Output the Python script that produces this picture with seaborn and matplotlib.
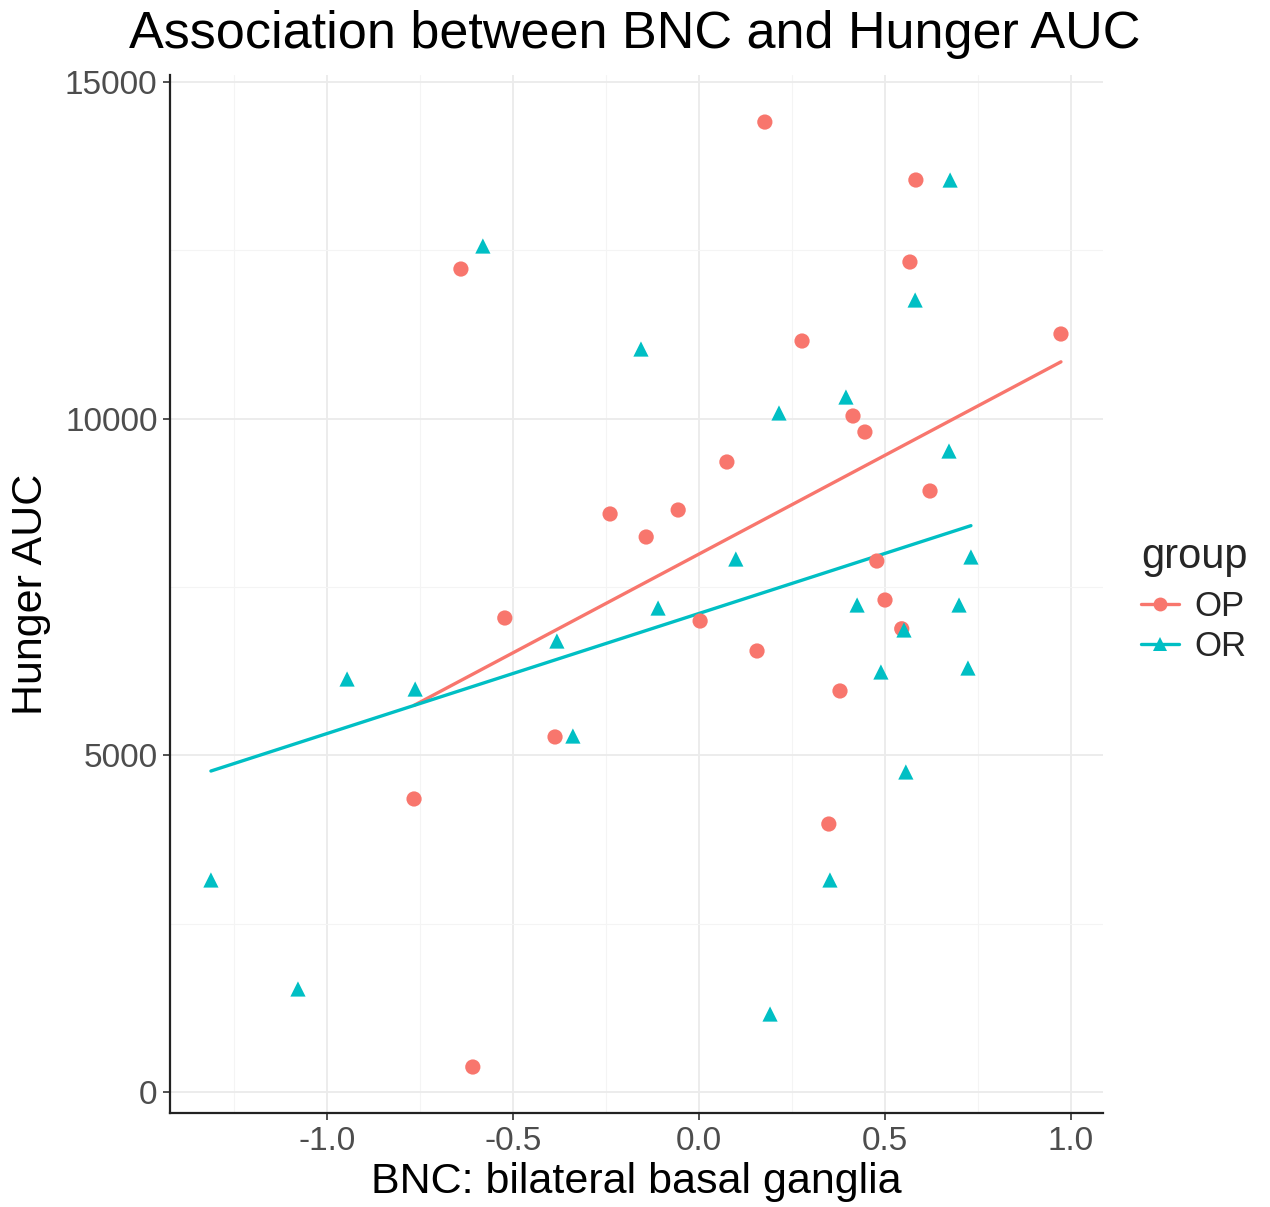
import numpy as np
import pandas as pd
import seaborn as sns
import matplotlib.pyplot as plt
from matplotlib.lines import Line2D
from matplotlib.ticker import MultipleLocator

sns.set_theme(style="white")
plt.rcParams["font.family"] = ["Liberation Sans", "DejaVu Sans"]

# OP group (red circles)
op_x = [0.177, 0.583, 0.567, -0.640, 0.973, 0.277, 0.414, 0.446, 0.075, 0.621,
        -0.239, -0.056, -0.142, 0.478, 0.500, -0.522, 0.003, 0.156, 0.379, -0.387,
        -0.766, 0.349, -0.608, 0.545]
op_y = [14406, 13545, 12327, 12223, 11258, 11154, 10040, 9802, 9357, 8926,
        8585, 8644, 8243, 7886, 7307, 7040, 6995, 6550, 5956, 5273,
        4352, 3980, 371, 6880]

# OR group (teal triangles)
or_x = [-0.581, 0.675, 0.581, -0.156, 0.395, 0.215, 0.672, 0.099, 0.731, -0.110,
        0.425, 0.699, 0.551, -0.382, -0.946, -0.763, 0.489, 0.723, -0.339, 0.556,
        -1.312, 0.352, -1.078, 0.191]
or_y = [12565, 13545, 11763, 11035, 10322, 10085, 9520, 7916, 7946, 7188,
        7233, 7233, 6862, 6698, 6134, 5985, 6238, 6297, 5287, 4753,
        3149, 3149, 1530, 1158]

groups = ["OP", "OR"]
palette = {"OP": "#F8766D", "OR": "#00BFC4"}
markers = {"OP": "o", "OR": "^"}

df = pd.DataFrame({
    "bnc": op_x + or_x,
    "auc": op_y + or_y,
    "group": ["OP"] * len(op_x) + ["OR"] * len(or_x),
})

fig = plt.figure(figsize=(12.7, 12.07), dpi=100)
ax = fig.add_axes([170 / 1270, 1 - 1113 / 1207, (1103 - 170) / 1270, (1113 - 75) / 1207])

for g in groups:
    sub = df[df["group"] == g]
    sns.regplot(data=sub, x="bnc", y="auc", scatter=False, ci=None, ax=ax,
                color=palette[g], line_kws={"linewidth": 2.4, "zorder": 2})

sns.scatterplot(data=df, x="bnc", y="auc", hue="group", style="group",
                palette=palette, markers=markers, s=120, edgecolor="none",
                legend=False, ax=ax, zorder=3)

ax.set_xlim(-1.422, 1.086)
ax.set_ylim(-312, 15105)
ax.xaxis.set_minor_locator(MultipleLocator(0.25))
ax.yaxis.set_major_locator(MultipleLocator(5000))
ax.yaxis.set_minor_locator(MultipleLocator(2500))
ax.set_xticks([-1.0, -0.5, 0.0, 0.5, 1.0])
ax.set_xticklabels(["-1.0", "-0.5", "0.0", "0.5", "1.0"])

ax.grid(which="major", color="#EBEBEB", linewidth=1.3)
ax.grid(which="minor", color="#F4F4F4", linewidth=0.8)
ax.set_axisbelow(True)

for side in ["top", "right"]:
    ax.spines[side].set_visible(False)
for side in ["left", "bottom"]:
    ax.spines[side].set_color("#222222")
    ax.spines[side].set_linewidth(1.6)

ax.tick_params(which="major", direction="out", length=5, width=1.2, color="#333333",
               labelsize=24, labelcolor="#4D4D4D", left=True, bottom=True, pad=4)
ax.tick_params(which="minor", length=0)

ax.set_xlabel("BNC: bilateral basal ganglia", fontsize=31, color="black", labelpad=4)
ax.set_ylabel("Hunger AUC", fontsize=31, color="black", labelpad=10)
fig.suptitle("Association between BNC and Hunger AUC", fontsize=37.5, x=0.5,
             y=1 - 10 / 1207, va="top", color="black")

handles = [Line2D([0], [0], color=palette[g], marker=markers[g], markersize=10,
                  linewidth=2.4, markeredgewidth=0) for g in groups]
leg = fig.legend(handles, groups, title="group", loc="center left",
                 bbox_to_anchor=(1141 / 1270, 1 - 600 / 1207), frameon=False,
                 fontsize=25, title_fontsize=30, handlelength=1.1,
                 handletextpad=0.45, labelspacing=0.2, borderpad=0,
                 borderaxespad=0)
leg._legend_box.align = "left"
leg._legend_box.sep = 10

fig.savefig("out.png", dpi=100)
